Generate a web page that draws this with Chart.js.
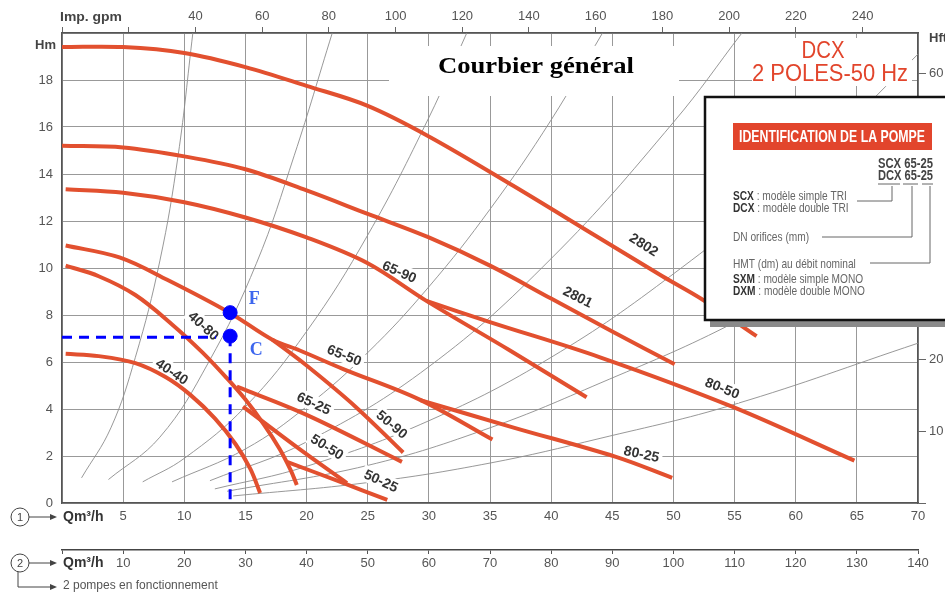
<!DOCTYPE html>
<html>
<head>
<meta charset="utf-8">
<script src="https://cdn.jsdelivr.net/npm/chart.js@4.4.1/dist/chart.umd.min.js"></script>
<style>
  html, body { margin: 0; padding: 0; background: #fff; }
</style>
</head>
<body>
<canvas id="chart_1" width="945" height="595"></canvas>
<script>
// Q en m3/h, H en m
const q2802 = [0, 5, 10, 15, 20, 25, 30, 36.9, 43.7, 49.1, 52.4, 56.8];
const h2802 = [19.4, 19.4, 19.15, 18.55, 17.75, 16.9, 15.6, 13.5, 11.35, 9.65, 8.65, 7.1];
const q2801 = [0, 5, 10, 15, 20, 25, 30, 35, 40, 45, 50.1];
const h2801 = [15.2, 15.13, 14.75, 14.2, 13.3, 12.3, 11.3, 10.1, 8.7, 7.3, 5.9];
const q6590 = [0.3, 5, 10, 15, 20, 25, 29.8, 36.6, 42.9];
const h6590 = [13.35, 13.2, 12.8, 12.15, 11.3, 10.2, 8.6, 6.5, 4.5];
const q8050 = [29.8, 35, 44, 54.8, 64.8];
const h8050 = [8.6, 7.7, 6.2, 4.1, 1.8];
const q6550 = [0.3, 4.7, 8.6, 13.7, 17.2, 19.4, 23, 29.25, 35.2];
const h6550 = [10.96, 10.45, 9.5, 8.1, 6.95, 6.5, 5.7, 4.4, 2.7];
const q5090 = [17.2, 20, 24, 27.9];
const h5090 = [6.95, 5.85, 4.1, 2.15];
const q8025 = [29.3, 37, 45.3, 49.9];
const h8025 = [4.38, 3.2, 1.96, 1.07];
const q4080 = [0.3, 3, 6, 9, 11.5, 13.5, 15, 16.5, 17.8, 18.7, 19.2];
const h4080 = [10.1, 9.65, 8.85, 7.6, 6.4, 5.3, 4.4, 3.35, 2.3, 1.4, 0.77];
const q4040 = [0.3, 3, 6, 8.5, 10.5, 12.5, 14.2, 15.4, 16.2];
const h4040 = [6.35, 6.25, 5.95, 5.35, 4.6, 3.6, 2.5, 1.45, 0.43];
const q6525 = [14.3, 20, 27.8];
const h6525 = [4.95, 3.75, 1.75];
const q5050 = [14.8, 19.4, 23.3];
const h5050 = [4.1, 2.3, 0.85];
const q5025 = [18.4, 22.5, 26.6];
const h5025 = [1.75, 0.95, 0.13];

// courbes grises (réseau)
const qG1 = [1.6, 4, 6, 8, 9.5, 10.7];
const hG1 = [1.07, 3.2, 6.2, 10.3, 14.8, 20];
const qG2 = [3.8, 8, 12, 15.9, 19, 22.1];
const hG2 = [1.0, 2.8, 6.0, 10.2, 14.8, 20];
const qG3 = [6.6, 10, 15, 20, 25, 30, 33.1];
const hG3 = [0.9, 1.9, 4.1, 7.3, 11.4, 16.4, 20];
const qG4 = [9, 15, 20, 25, 30, 35, 40, 44.2];
const hG4 = [0.9, 2.3, 4.1, 6.4, 9.2, 12.5, 16.3, 20];
const qG5 = [12.1, 20, 30, 40, 50, 55.6];
const hG5 = [0.95, 2.6, 5.8, 10.4, 16.2, 20];
const qG6 = [12.5, 20, 30, 40, 50, 60, 70];
const hG6 = [0.6, 1.56, 3.5, 6.2, 9.75, 14.0, 19.1];
const qG7 = [13.5, 25, 35, 44, 54.3, 60];
const hG7 = [0.5, 1.6, 3.2, 5.1, 7.5, 9.3];
const qG8 = [14, 25, 35, 44, 55, 70];
const hG8 = [0.3, 0.87, 1.7, 2.75, 4.2, 6.8];

// point de fonctionnement
const qOp = 13.75;
const hF = 8.1;
const hC = 7.1;
const hTrait = 7.05;
const qTrait = 12.6;

const etiquettes = [
  { t: "2802", q: 47.6, h: 11.0, a: 32 },
  { t: "2801", q: 42.2, h: 8.78, a: 27 },
  { t: "65-90", q: 27.6, h: 9.85, a: 24 },
  { t: "65-50", q: 23.1, h: 6.3, a: 22 },
  { t: "40-80", q: 11.6, h: 7.55, a: 42 },
  { t: "40-40", q: 9.0, h: 5.6, a: 34 },
  { t: "65-25", q: 20.6, h: 4.25, a: 25 },
  { t: "50-90", q: 27.0, h: 3.35, a: 40 },
  { t: "50-50", q: 21.7, h: 2.4, a: 32 },
  { t: "50-25", q: 26.1, h: 0.95, a: 25 },
  { t: "80-25", q: 47.4, h: 2.1, a: 12 },
  { t: "80-50", q: 54.0, h: 4.9, a: 22 }
];

const pts = (qs, hs) => qs.map((q, i) => ({ x: q, y: hs[i] }));
const rouge = "#e2502f";

function courbe(label, qs, hs) {
  return {
    label: label, data: pts(qs, hs), borderColor: rouge, borderWidth: 4,
    pointRadius: 0, tension: 0.35, fill: false, order: 1
  };
}
function grise(qs, hs) {
  return {
    label: "", data: pts(qs, hs), borderColor: "#8c8c8c", borderWidth: 0.9,
    pointRadius: 0, tension: 0.4, fill: false, order: 3
  };
}

function texte(c, s, x, y, font, color, align, w) {
  c.save();
  c.font = font;
  c.fillStyle = color;
  c.textAlign = align || "left";
  c.textBaseline = "middle";
  c.translate(x, y);
  if (w) c.scale(w / c.measureText(s).width, 1);
  c.fillText(s, 0, 0);
  c.restore();
}

function fleche(c, x1, y1, x2, y2) {
  c.beginPath();
  c.moveTo(x1, y1);
  c.lineTo(x2, y2);
  c.stroke();
  c.beginPath();
  c.moveTo(x2 + 3, y2);
  c.lineTo(x2 - 4, y2 - 3);
  c.lineTo(x2 - 4, y2 + 3);
  c.closePath();
  c.fill();
}

const GRIS_DERNIER = 12; // index de la dernière courbe grise dessinée

const decor = {
  id: "decor",
  afterDatasetDraw(chart, args) {
    if (args.index !== GRIS_DERNIER) return;
    // noms des courbes, sous les courbes rouges
    const c = chart.ctx;
    const xs = chart.scales.x, ys = chart.scales.y;
    etiquettes.forEach(e => {
      const px = xs.getPixelForValue(e.q), py = ys.getPixelForValue(e.h);
      c.save();
      c.translate(px, py);
      c.rotate(e.a * Math.PI / 180);
      c.font = "bold 14px 'Liberation Sans', Arial, sans-serif";
      const w = c.measureText(e.t).width;
      c.fillStyle = "#fff";
      c.fillRect(-w / 2 - 3, -8, w + 6, 16);
      c.fillStyle = "#333";
      c.textAlign = "center";
      c.textBaseline = "middle";
      c.fillText(e.t, 0, 1);
      c.restore();
    });
  },
  afterDraw(chart) {
    const c = chart.ctx;
    const xs = chart.scales.x, ys = chart.scales.y;

    // lettres F et C
    const xo = xs.getPixelForValue(qOp);
    c.fillStyle = "#fff";
    c.fillRect(xo + 17, ys.getPixelForValue(hC) + 3, 20, 22);
    texte(c, "F", xo + 24, ys.getPixelForValue(hF) - 13, "bold 18px 'Liberation Serif', serif", "#3d66ee", "center");
    texte(c, "C", xo + 26, ys.getPixelForValue(hC) + 14, "bold 18px 'Liberation Serif', serif", "#3d66ee", "center");

    // titre
    c.fillStyle = "#fff";
    c.fillRect(389, 46, 290, 50);
    texte(c, "Courbier général", 536, 67, "bold 24px 'Liberation Serif', 'Times New Roman', serif", "#000", "center", 196);

    // DCX
    c.fillStyle = "#fff";
    c.fillRect(752, 38, 160, 48);
    texte(c, "DCX", 823, 51, "24px 'Liberation Sans', Arial, sans-serif", "#e2452c", "center", 43);
    texte(c, "2 POLES-50 Hz", 830, 74, "24px 'Liberation Sans', Arial, sans-serif", "#e2452c", "center", 156);

    // encadré identification
    c.fillStyle = "#8a8a8a";
    c.fillRect(710, 320, 240, 7);
    c.fillStyle = "#fff";
    c.fillRect(705, 97, 245, 223);
    c.strokeStyle = "#111";
    c.lineWidth = 2.5;
    c.strokeRect(705, 97, 250, 223);
    c.fillStyle = "#e2452c";
    c.fillRect(733, 123, 199, 27);
    texte(c, "IDENTIFICATION DE LA POMPE", 832, 137, "bold 17px 'Liberation Sans', Arial, sans-serif", "#fff", "center", 186);
    const fb = "bold 13px 'Liberation Sans', Arial, sans-serif";
    const fn = "13px 'Liberation Sans', Arial, sans-serif";
    texte(c, "SCX 65-25", 933, 164, "bold 14px 'Liberation Sans', Arial, sans-serif", "#444", "right", 55);
    texte(c, "DCX 65-25", 933, 176, "bold 14px 'Liberation Sans', Arial, sans-serif", "#444", "right", 55);
    c.strokeStyle = "#666";
    c.lineWidth = 1;
    c.beginPath();
    c.moveTo(878, 184); c.lineTo(900, 184);
    c.moveTo(903, 184); c.lineTo(918, 184);
    c.moveTo(922, 184); c.lineTo(933, 184);
    c.moveTo(857, 201); c.lineTo(892, 201); c.lineTo(892, 186);
    c.moveTo(822, 237); c.lineTo(912, 237); c.lineTo(912, 186);
    c.moveTo(870, 263); c.lineTo(930, 263); c.lineTo(930, 186);
    c.stroke();
    const lignes = [
      ["SCX", " : modèle simple TRI", 196],
      ["DCX", " : modèle double TRI", 208],
      ["", "DN orifices (mm)", 237],
      ["", "HMT (dm) au débit nominal", 264],
      ["SXM", " : modèle simple MONO", 279],
      ["DXM", " : modèle double MONO", 291]
    ];
    lignes.forEach(l => {
      c.save();
      c.translate(733, l[2]);
      c.scale(0.78, 1);
      c.textBaseline = "middle";
      c.font = fb;
      c.fillStyle = "#333";
      c.fillText(l[0], 0, 0);
      const w0 = l[0] ? c.measureText(l[0]).width : 0;
      c.font = fn;
      c.fillStyle = "#666";
      c.fillText(l[1], w0, 0);
      c.restore();
    });

    // légendes des axes
    texte(c, "Imp. gpm", 60, 17, "bold 13px 'Liberation Sans', Arial, sans-serif", "#444", "left", 62);
    texte(c, "Hm", 35, 45, "bold 13px 'Liberation Sans', Arial, sans-serif", "#444", "left");
    texte(c, "Hft", 929, 38, "bold 13px 'Liberation Sans', Arial, sans-serif", "#444", "left");

    c.strokeStyle = "#444";
    c.fillStyle = "#444";
    c.lineWidth = 1;
    [517, 563].forEach((yy, i) => {
      c.beginPath();
      c.arc(20, yy, 9, 0, Math.PI * 2);
      c.stroke();
      texte(c, String(i + 1), 20, yy + 1, "11px 'Liberation Sans', Arial, sans-serif", "#444", "center");
      fleche(c, 29, yy, 54, yy);
      texte(c, "Qm³/h", 63, yy, "bold 14px 'Liberation Sans', Arial, sans-serif", "#333", "left");
    });
    c.beginPath();
    c.moveTo(18, 572); c.lineTo(18, 587); c.lineTo(54, 587);
    c.stroke();
    fleche(c, 50, 587, 54, 587);
    texte(c, "2 pompes en fonctionnement", 63, 586, "12px 'Liberation Sans', Arial, sans-serif", "#555", "left");
  }
};

const tickFont = { size: 13, family: "'Liberation Sans', Arial, sans-serif" };
const gris = "#555";

const ct_1 = document.getElementById("chart_1");

const config_1 = {
  type: "line",
  data: {
    datasets: [
      courbe("2802", q2802, h2802),
      courbe("2801", q2801, h2801),
      courbe("65-90", q6590, h6590),
      courbe("80-50", q8050, h8050),
      courbe("65-50", q6550, h6550),
      courbe("50-90", q5090, h5090),
      courbe("80-25", q8025, h8025),
      courbe("40-80", q4080, h4080),
      courbe("40-40", q4040, h4040),
      courbe("65-25", q6525, h6525),
      courbe("50-50", q5050, h5050),
      courbe("50-25", q5025, h5025),
      grise(qG1, hG1), grise(qG2, hG2), grise(qG3, hG3), grise(qG4, hG4),
      grise(qG5, hG5), grise(qG6, hG6), grise(qG7, hG7), grise(qG8, hG8),
      {
        label: "H", data: [{ x: 0, y: hTrait }, { x: qTrait, y: hTrait }],
        borderColor: "#0000ff", borderWidth: 3, borderDash: [10, 7], pointRadius: 0, order: 0
      },
      {
        label: "V", data: [{ x: qOp, y: hC }, { x: qOp, y: 0 }],
        borderColor: "#0000ff", borderWidth: 3, borderDash: [10, 7], pointRadius: 0, order: 0
      },
      {
        label: "FC", data: [{ x: qOp, y: hF }, { x: qOp, y: hC }], showLine: false,
        pointRadius: 7, pointBackgroundColor: "#0000ff", pointBorderColor: "#0000ff", order: 0
      }
    ]
  },
  options: {
    responsive: false,
    animation: false,
    devicePixelRatio: 1,
    layout: { padding: 0 },
    plugins: { legend: { display: false }, tooltip: { enabled: false } },
    scales: {
      x: {
        type: "linear", position: "bottom", min: 0, max: 70, weight: 0,
        ticks: { stepSize: 5, padding: 6, color: gris, font: tickFont, callback: v => v === 0 ? "" : v },
        grid: { color: "#999", lineWidth: 1, drawTicks: false },
        border: { color: "#555", width: 1.5 },
        afterFit: s => { s.height = 47; }
      },
      x2: {
        type: "linear", position: "bottom", min: 0, max: 140, weight: 1,
        ticks: { stepSize: 10, padding: 2, color: gris, font: tickFont, callback: v => v === 0 ? "" : v },
        grid: { drawOnChartArea: false, drawTicks: true, tickLength: 4, color: "#555" },
        border: { color: "#444", width: 1.5 },
        afterFit: s => { s.height = 45; }
      },
      xTop: {
        type: "linear", position: "top", min: 0, max: 70 * 3.6662, bounds: "data",
        ticks: { stepSize: 20, includeBounds: false, padding: 3, color: gris, font: tickFont,
          callback: v => (v === 0 || v === 20) ? "" : v },
        grid: { drawOnChartArea: false, drawTicks: true, tickLength: 6, color: "#666" },
        border: { color: "#555", width: 1.5 },
        afterFit: s => { s.height = 33; }
      },
      y: {
        type: "linear", position: "left", min: 0, max: 20,
        ticks: { stepSize: 2, padding: 9, color: gris, font: tickFont, callback: v => v === 20 ? "" : v },
        grid: { color: "#999", lineWidth: 1, drawTicks: false },
        border: { color: "#555", width: 1.5 },
        afterFit: s => { s.width = 62; }
      },
      yRight: {
        type: "linear", position: "right", min: 0, max: 20 * 3.2808, bounds: "data",
        ticks: { stepSize: 10, includeBounds: false, padding: 3, color: gris, font: tickFont,
          callback: v => v === 0 ? "" : v },
        grid: { drawOnChartArea: false, drawTicks: true, tickLength: 8, color: "#666" },
        border: { color: "#555", width: 1.5 },
        afterFit: s => { s.width = 27; }
      }
    }
  },
  plugins: [decor]
};

new Chart(ct_1, config_1);
</script>
</body>
</html>
